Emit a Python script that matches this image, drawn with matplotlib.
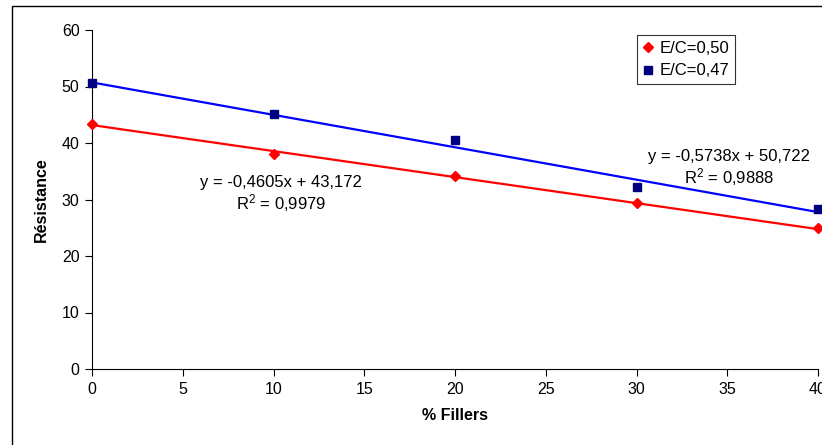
import numpy as np
import matplotlib.pyplot as plt
from matplotlib.patches import Rectangle

plt.rcParams['font.family'] = ['Liberation Sans', 'DejaVu Sans']
plt.rcParams['mathtext.fontset'] = 'custom'
plt.rcParams['mathtext.rm'] = 'Liberation Sans'
plt.rcParams['mathtext.default'] = 'regular'

# ------- data ------- #
fillers = [0, 10, 20, 30, 40]
res_050 = [43.4, 38.0, 34.2, 29.4, 24.9]
res_047 = [50.7, 45.2, 40.5, 32.2, 28.4]

# trend line coefficients as printed on the chart
fit_050 = (-0.4605, 43.172)
fit_047 = (-0.5738, 50.722)
r2_050 = "0,9979"
r2_047 = "0,9888"

# ------- figure ------- #
fig = plt.figure(figsize=(8.22, 4.45), dpi=100)
W, H = 822, 445

# outer chart border (only left and top visible in the crop)
fig.patches.append(Rectangle((12 / W, -0.05), 1.2, (H - 6) / H + 0.05,
                             transform=fig.transFigure, fill=False,
                             edgecolor='black', linewidth=1.0))

ax = fig.add_axes([92 / W, 76 / H, (818 - 92) / W, (369 - 30) / H])

xs = np.array([0, 40])
ax.plot(xs, np.polyval(fit_050, xs), color='#ff0000', lw=1.6, zorder=2)
ax.plot(xs, np.polyval(fit_047, xs), color='#0000ff', lw=1.6, zorder=2)

ax.plot(fillers, res_050, linestyle='none', marker='D', markersize=5,
        color='#ff0000', label='E/C=0,50', zorder=3, clip_on=False)
ax.plot(fillers, res_047, linestyle='none', marker='s', markersize=6,
        color='#000080', label='E/C=0,47', zorder=3, clip_on=False)

ax.set_xlim(0, 40)
ax.set_ylim(0, 60)
ax.set_xticks(range(0, 41, 5))
ax.set_yticks(range(0, 61, 10))
ax.tick_params(direction='out', length=5, width=0.8, labelsize=11.5, pad=4)
for s in ('top', 'right'):
    ax.spines[s].set_visible(False)

ax.set_xlabel('% Fillers', fontsize=11.5, fontweight='bold', labelpad=8)
ax.set_ylabel('Résistance', fontsize=11.5, fontweight='bold', labelpad=9)


def eq_text(fit, r2):
    a, b = fit
    line1 = f"y = {a:.4f}x + {b:.3f}".replace('.', ',')
    return line1 + "\nR$^{2}$ = " + r2


ax.text(10.4, 30.8, eq_text(fit_050, r2_050),
        ha='center', va='center', fontsize=12, linespacing=1.12)
ax.text(35.1, 35.5, eq_text(fit_047, r2_047),
        ha='center', va='center', fontsize=12, linespacing=1.12)

leg = ax.legend(loc='upper left', bbox_to_anchor=((637 - 92) / 726, 1 - (35 - 30) / 339),
                fontsize=12, frameon=True, fancybox=False, borderpad=0.35,
                handlelength=0.6, handletextpad=0.4, labelspacing=0.45, borderaxespad=0)
leg.get_frame().set_edgecolor('black')
leg.get_frame().set_linewidth(0.8)

fig.savefig('out.png', dpi=100)
